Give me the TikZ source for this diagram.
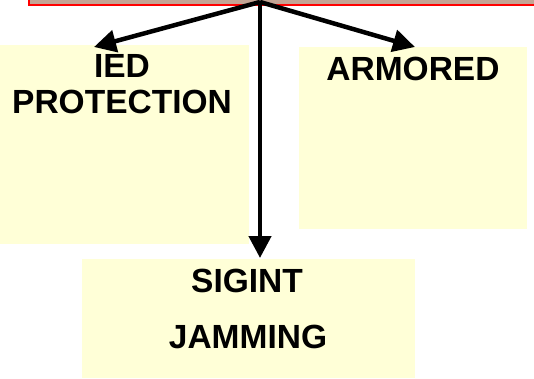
\documentclass[tikz,border=0pt]{standalone}
\usepackage{fontspec}
\setmainfont{Liberation Sans}
\usetikzlibrary{arrows.meta}
\definecolor{boxyellow}{HTML}{FFFFD7}
\definecolor{topfill}{HTML}{C4A494}
\tikzset{
  ybox/.style={fill=boxyellow, draw=none, inner sep=0pt, anchor=north west},
  lbl/.style={font=\fontsize{33.5}{36}\selectfont\bfseries, inner sep=0pt, anchor=base},
  arr/.style={line width=4.5pt, -{Triangle[length=22pt,width=22pt]}}
}
\begin{document}
\begin{tikzpicture}[x=1pt,y=-1pt]
\useasboundingbox (0,0) rectangle (534,378);
% top box
\node[fill=topfill, draw=red, line width=1.5pt, inner sep=0pt, anchor=north west,
      minimum width=520pt, minimum height=14pt] (top) at (28,-10) {};
% boxes
\node[ybox, minimum width=249pt, minimum height=199pt] (ied) at (0,45) {};
\node[ybox, minimum width=228pt, minimum height=182pt] (arm) at (299,47) {};
\node[ybox, minimum width=333pt, minimum height=119pt] (sig) at (82,259) {};
% labels
\node[lbl] (iedA) at (122,77) {IED};
\node[lbl] (iedB) at (122,113) {PROTECTION};
\node[lbl] (armA) at (413,80) {ARMORED};
\node[lbl] (sigA) at (247,292) {SIGINT};
\node[lbl] (sigB) at (248,348) {JAMMING};
% connectors
\coordinate (src) at (260,2);
\coordinate (tipL) at (94,47);
\coordinate (tipR) at (415,47);
\coordinate (tipD) at (260,258);
\draw[arr] (src) -- (tipL);
\draw[arr] (src) -- (tipR);
\draw[arr] (src) -- (tipD);
\end{tikzpicture}
\end{document}
